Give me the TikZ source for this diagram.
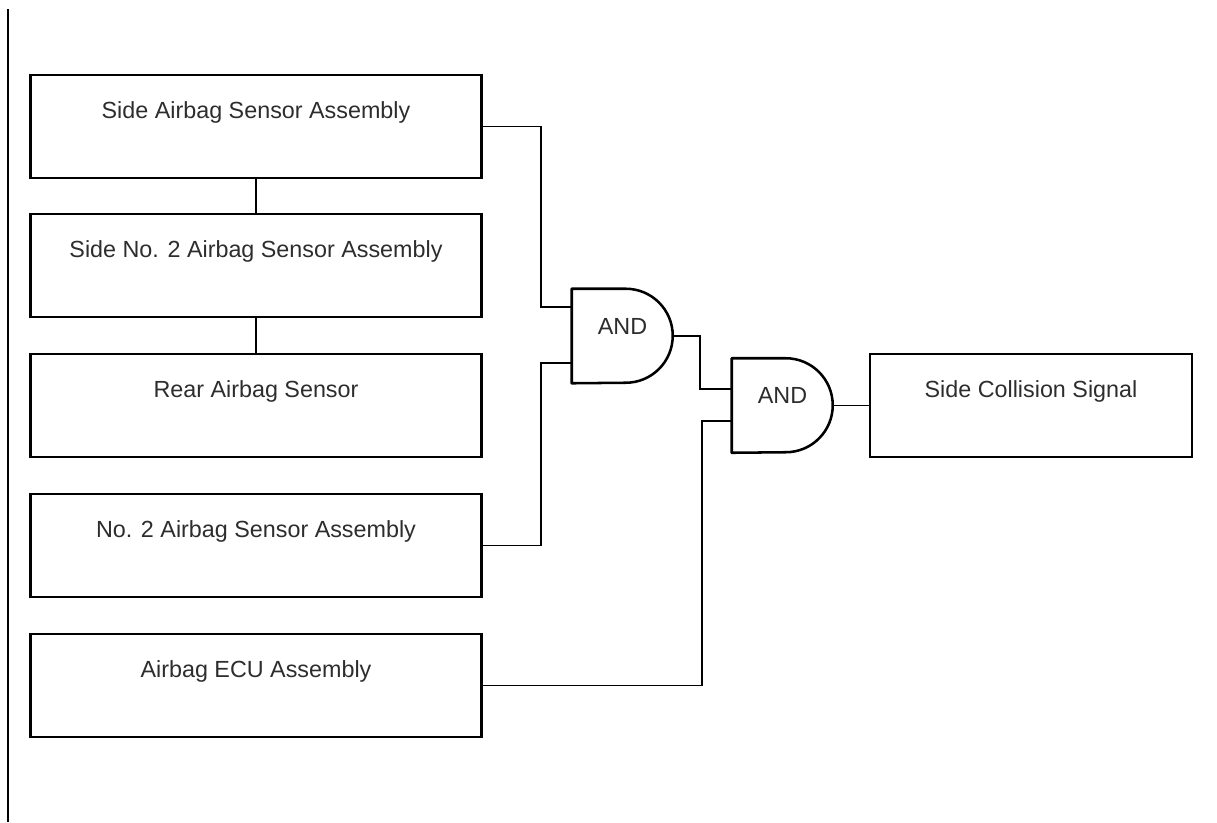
\documentclass[tikz,border=0pt]{standalone}
\usepackage{fontspec}
\setmainfont{Liberation Sans}
\usetikzlibrary{calc}
\definecolor{txtcol}{RGB}{45,45,45}
\tikzset{
  blk/.style={draw,line width=2pt,minimum width=338.25pt,minimum height=77.25pt,inner sep=0pt,
    text height=12.5pt,text depth=25.25pt,text=txtcol,font=\fontsize{17.5}{21}\selectfont},
  gt/.style={minimum width=75.75pt,minimum height=70.5pt,inner sep=0pt,
    text height=12.5pt,text depth=15.5pt,text=txtcol,font=\fontsize{17.5}{21}\selectfont},
  gl/.style={draw,line width=1.9pt,line join=round},
  wr/.style={draw,line width=1.3pt}
}
\begin{document}
\begin{tikzpicture}[x=0.75pt,y=0.75pt]
\useasboundingbox (0,0) rectangle (1217,-822);
\draw[line width=1.5pt] (8,-9) -- (8,-822);
% sensor blocks
\node[blk](s1) at (256,-126.5){Side Airbag Sensor Assembly};
\node[blk](s2) at (256,-265.5){Side No. 2 Airbag Sensor Assembly};
\node[blk](s3) at (256,-405.5){Rear Airbag Sensor};
\node[blk](s4) at (256,-545.5){No. 2 Airbag Sensor Assembly};
\node[blk](ecu) at (256,-685.5){Airbag ECU Assembly};
% gates and output
\node[gt](g1) at (622.5,-336){AND};
\node[gt](g2) at (782.5,-405.5){AND};
\foreach \g in {g1,g2}{\draw[gl] (\g.south west) -- (\g.north west) -- ++(54,0) arc[start angle=90,end angle=-90,radius=47] -- cycle;}
\node[blk,minimum width=241.5pt](sig) at (1031,-405.5){Side Collision Signal};
\foreach \a/\b in {s1/s2,s2/s3}{\draw[wr](\a.south)--(\b.north);}
\draw[wr] (s1.east) -- ++(58,0) |- ($(g1.west)+(0,29)$);
\draw[wr] (s4.east) -- ++(58,0) |- ($(g1.west)+(0,-27)$);
\draw[wr] (g1.east) -- ++(27,0) |- ($(g2.west)+(0,16.5)$);
\draw[wr] (ecu.east) -- ++(219,0) |- ($(g2.west)+(0,-15.5)$);
\draw[wr] (g2.east) -- (sig.west);
\end{tikzpicture}
\end{document}
